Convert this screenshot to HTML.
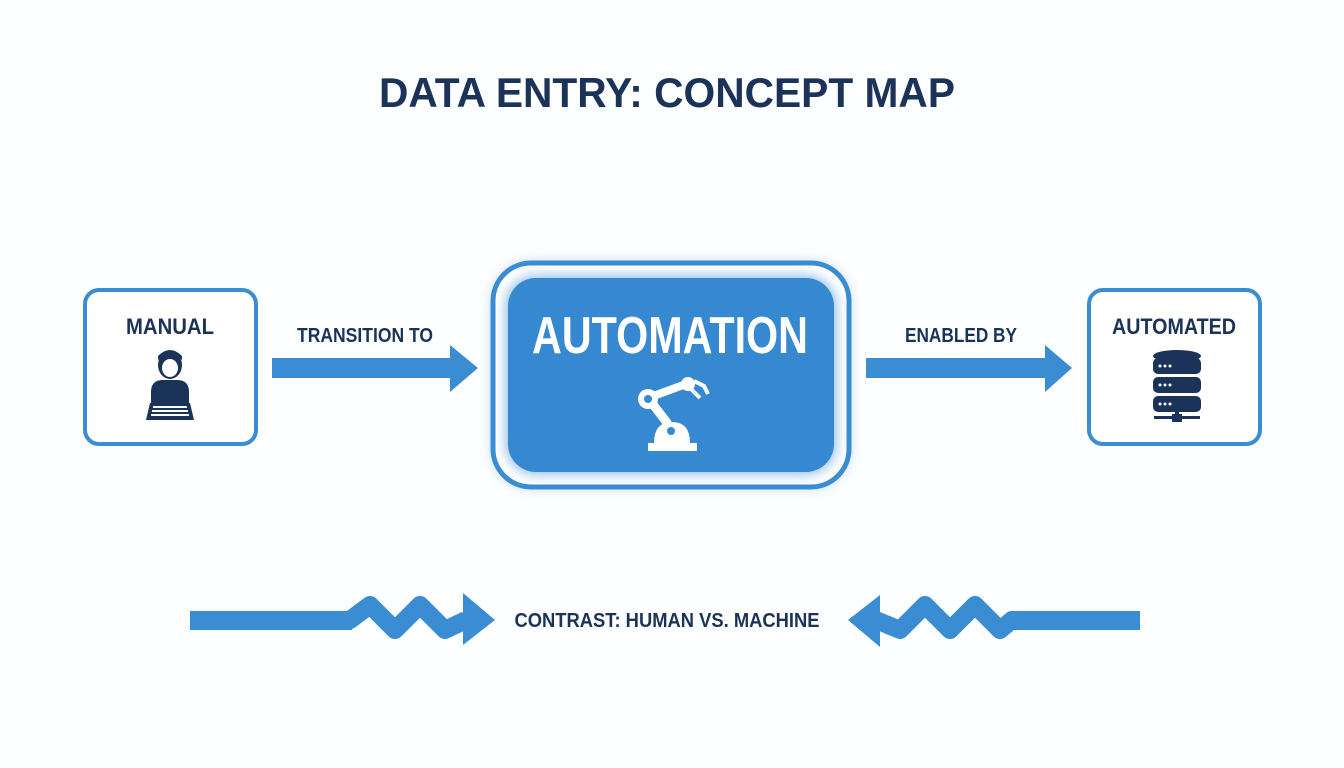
<!DOCTYPE html>
<html><head><meta charset="utf-8"><style>
html,body{margin:0;padding:0;background:#fdfeff;}
svg{display:block}
text{font-family:"Liberation Sans",sans-serif;font-weight:bold;}
</style></head><body>
<svg width="1344" height="768" viewBox="0 0 1344 768" xmlns="http://www.w3.org/2000/svg">
<defs>
<filter id="glow" x="-20%" y="-20%" width="140%" height="140%"><feGaussianBlur stdDeviation="6"/></filter>
</defs>
<rect width="1344" height="768" fill="#fdfeff"/>
<text x="667" y="107" font-size="42" fill="#1b3358" text-anchor="middle" textLength="576" lengthAdjust="spacingAndGlyphs">DATA ENTRY: CONCEPT MAP</text>

<!-- Manual box -->
<rect x="85" y="290" width="171" height="154" rx="14" fill="#fff" stroke="#3a8dd2" stroke-width="4"/>
<text x="170" y="334" font-size="22" fill="#1b3358" text-anchor="middle" textLength="88" lengthAdjust="spacingAndGlyphs">MANUAL</text>
<g fill="#1b3358">
<ellipse cx="170" cy="365" rx="12" ry="14"/>
<ellipse cx="170" cy="368" rx="8" ry="9" fill="#fff"/>
<path d="M158 360 Q170 348 182 360 L182 356 Q170 344 158 356Z"/>
<path d="M151 404 L151 392 Q151 380 163 380 L177 380 Q189 380 189 392 L189 404Z"/>
<path d="M146 420 L150 403 L190 403 L194 420Z"/>
</g>
<g fill="#fff">
<rect x="153" y="406" width="34" height="2"/><rect x="152" y="410" width="36" height="2"/><rect x="151" y="414" width="38" height="2"/>
</g>

<!-- Arrow 1 -->
<text x="365" y="342" font-size="20" fill="#1b3358" text-anchor="middle" textLength="136" lengthAdjust="spacingAndGlyphs">TRANSITION TO</text>
<path d="M272 358 L450 358 L450 345 L478 368 L450 392 L450 378 L272 378Z" fill="#3a8dd2"/>

<!-- Automation -->
<rect x="492" y="262" width="358" height="226" rx="40" fill="#3a8dd2" opacity="0.35" filter="url(#glow)"/>
<rect x="493" y="263" width="356" height="224" rx="38" fill="#fff" stroke="#3a8dd2" stroke-width="5"/>
<rect x="506" y="276" width="330" height="198" rx="30" fill="#3a8dd2" filter="url(#glow)" opacity="0.6"/>
<rect x="508" y="278" width="326" height="194" rx="28" fill="#3689d0"/>
<text x="670" y="353" font-size="52" fill="#fff" text-anchor="middle" textLength="276" lengthAdjust="spacingAndGlyphs">AUTOMATION</text>
<g fill="#fff" stroke="#fff">
<rect x="648" y="443" width="49" height="8" stroke="none"/>
<path d="M654 443 Q654 422 672 422 Q690 422 690 443Z" stroke="none"/>
<circle cx="671" cy="431" r="4" fill="#3689d0" stroke="none"/>
<line x1="648" y1="398" x2="668" y2="424" stroke-width="9"/>
<line x1="648" y1="398" x2="686" y2="384" stroke-width="8"/>
<circle cx="648" cy="399" r="10" stroke="none"/>
<circle cx="648" cy="399" r="4" fill="#3689d0" stroke="none"/>
<circle cx="688" cy="384" r="7" stroke="none"/>
<path d="M690 388 L700 398" stroke-width="4" fill="none"/>
<path d="M694 381 L704 386 L708 394" stroke-width="4" fill="none"/>
</g>

<!-- Arrow 2 -->
<text x="961" y="342" font-size="20" fill="#1b3358" text-anchor="middle" textLength="112" lengthAdjust="spacingAndGlyphs">ENABLED BY</text>
<path d="M866 358 L1045 358 L1045 345 L1072 368 L1045 392 L1045 378 L866 378Z" fill="#3a8dd2"/>

<!-- Automated box -->
<rect x="1089" y="290" width="171" height="154" rx="14" fill="#fff" stroke="#3a8dd2" stroke-width="4"/>
<text x="1174" y="334" font-size="22" fill="#1b3358" text-anchor="middle" textLength="124" lengthAdjust="spacingAndGlyphs">AUTOMATED</text>
<g fill="#1b3358">
<ellipse cx="1177" cy="356" rx="24" ry="6"/>
<rect x="1153" y="358" width="48" height="16" rx="5"/>
<rect x="1153" y="377" width="48" height="16" rx="5"/>
<rect x="1153" y="396" width="48" height="16" rx="5"/>
<rect x="1175" y="412" width="4" height="6"/>
<rect x="1154" y="416" width="46" height="3"/>
<rect x="1172" y="414" width="10" height="8"/>
</g>
<g fill="#fff">
<circle cx="1160" cy="366" r="1.5"/><circle cx="1165" cy="366" r="1.5"/><circle cx="1170" cy="366" r="1.5"/>
<circle cx="1160" cy="385" r="1.5"/><circle cx="1165" cy="385" r="1.5"/><circle cx="1170" cy="385" r="1.5"/>
<circle cx="1160" cy="404" r="1.5"/><circle cx="1165" cy="404" r="1.5"/><circle cx="1170" cy="404" r="1.5"/>
</g>

<!-- Bottom zigzag arrows -->
<path d="M190 620 L350 620 L370 605 L395 630 L420 605 L445 630 L466 620" fill="none" stroke="#3a8dd2" stroke-width="18" stroke-linejoin="round"/>
<rect x="190" y="611" width="162" height="19" fill="#3a8dd2"/>
<path d="M463 593 L495 620 L463 645Z" fill="#3a8dd2"/>
<text x="667" y="627" font-size="20" fill="#1b3358" text-anchor="middle" textLength="305" lengthAdjust="spacingAndGlyphs">CONTRAST: HUMAN VS. MACHINE</text>
<path d="M876 620 L900 630 L925 605 L950 630 L975 605 L1000 630 L1012 620 L1140 620" fill="none" stroke="#3a8dd2" stroke-width="18" stroke-linejoin="round"/>
<rect x="1010" y="611" width="130" height="19" fill="#3a8dd2"/>
<path d="M880 595 L848 620 L880 647Z" fill="#3a8dd2"/>
</svg>
</body></html>
